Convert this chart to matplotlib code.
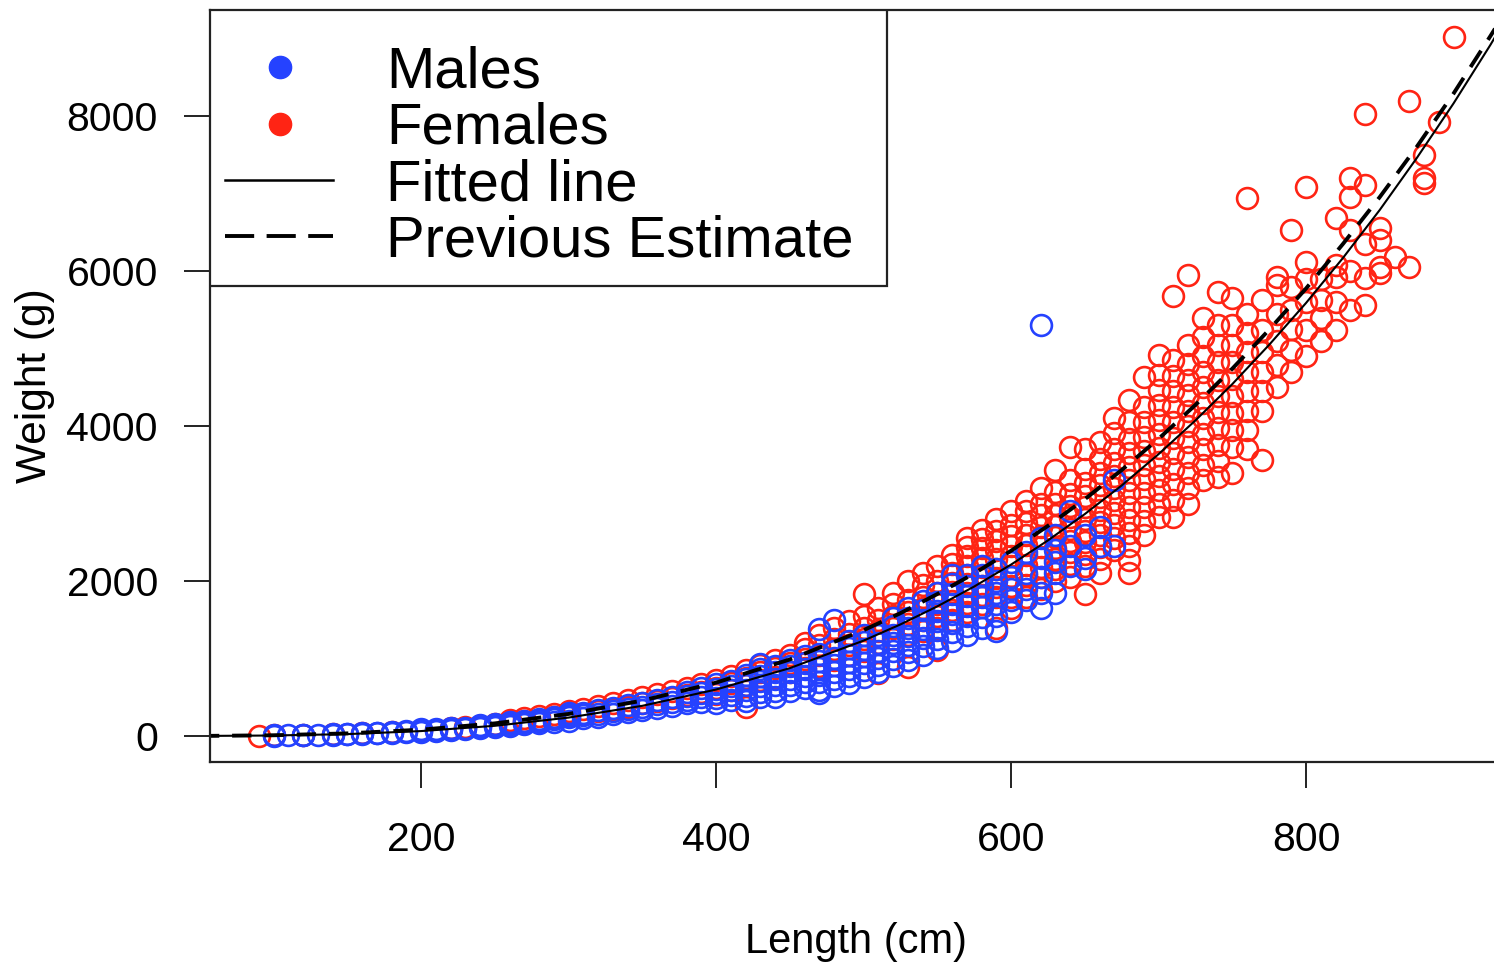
import matplotlib
matplotlib.use("Agg")
import matplotlib.pyplot as plt
from matplotlib.patches import Rectangle

plt.rcParams['font.family'] = ['Liberation Sans', 'DejaVu Sans']

# ============================== data ==============================
# (length cm, weight g) pairs, lengths are recorded in 10 cm steps
males = [
    (100, 5), (100, 10), (110, 8), (120, 10), (120, 16), (130, 14), (140, 18), (140, 25),
    (150, 22), (150, 30), (160, 28), (160, 40), (170, 35), (170, 45), (180, 40), (180, 55),
    (190, 50), (190, 65), (200, 55), (200, 70), (200, 85), (210, 65), (210, 85),
    (220, 75), (220, 95), (220, 110), (230, 90), (230, 110), (240, 100), (240, 125), (240, 140),
    (250, 115), (250, 140), (250, 160), (260, 130), (260, 150), (260, 175),
    (270, 150), (270, 175), (270, 200), (280, 165), (280, 195), (280, 225),
    (290, 185), (290, 215), (290, 250), (300, 200), (300, 240), (300, 270), (300, 300),
    (310, 230), (310, 265), (310, 300), (320, 250), (320, 290), (320, 330),
    (330, 280), (330, 320), (330, 360), (340, 310), (340, 350), (340, 400),
    (350, 330), (350, 380), (350, 430), (360, 360), (360, 410), (360, 460),
    (370, 390), (370, 440), (370, 500), (380, 420), (380, 470), (380, 520), (380, 570),
    (390, 440), (390, 500), (390, 560), (390, 620),
    (400, 430), (400, 490), (400, 550), (400, 610), (400, 670),
    (410, 470), (410, 530), (410, 590), (410, 650), (410, 710),
    (420, 450), (420, 520), (420, 590), (420, 660), (420, 730), (420, 790),
    (430, 500), (430, 570), (430, 640), (430, 710), (430, 780), (430, 860), (430, 930),
    (440, 500), (440, 580), (440, 660), (440, 740), (440, 820), (440, 900),
    (450, 580), (450, 660), (450, 740), (450, 820), (450, 900), (450, 980),
    (460, 620), (460, 700), (460, 780), (460, 860), (460, 940), (460, 1030),
    (470, 560), (470, 600), (470, 700), (470, 790), (470, 880), (470, 970), (470, 1060), (470, 1380),
    (480, 650), (480, 740), (480, 830), (480, 920), (480, 1010), (480, 1100), (480, 1500),
    (490, 680), (490, 770), (490, 860), (490, 950), (490, 1040), (490, 1130), (490, 1220),
    (500, 760), (500, 850), (500, 940), (500, 1030), (500, 1120), (500, 1210), (500, 1300),
    (510, 830), (510, 920), (510, 1010), (510, 1100), (510, 1200), (510, 1300),
    (520, 900), (520, 1000), (520, 1100), (520, 1200), (520, 1300), (520, 1420), (520, 1520),
    (530, 980), (530, 1080), (530, 1180), (530, 1290), (530, 1400), (530, 1520), (530, 1650),
    (540, 1050), (540, 1160), (540, 1270), (540, 1380), (540, 1500), (540, 1620), (540, 1740),
    (550, 1130), (550, 1250), (550, 1370), (550, 1490), (550, 1610), (550, 1730), (550, 1850),
    (560, 1220), (560, 1340), (560, 1460), (560, 1580), (560, 1700), (560, 1830), (560, 1960), (560, 2080),
    (570, 1300), (570, 1420), (570, 1550), (570, 1680), (570, 1810), (570, 1940), (570, 2080),
    (580, 1400), (580, 1530), (580, 1660), (580, 1800), (580, 1940), (580, 2080), (580, 2200),
    (590, 1350), (590, 1550), (590, 1700), (590, 1850), (590, 2000), (590, 2150),
    (600, 1600), (600, 1750), (600, 1900), (600, 2050), (600, 2250),
    (610, 1750), (610, 1900), (610, 2100), (610, 2380),
    (620, 1650), (620, 1850), (620, 2050), (620, 2300), (620, 2550), (620, 5300),
    (630, 1850), (630, 2100), (630, 2250), (630, 2400), (630, 2600),
    (640, 2200), (640, 2450), (640, 2900), (650, 2150), (650, 2300), (650, 2600),
    (660, 2450), (660, 2700), (670, 2450), (670, 3300),
]

females = [
    (90, 5), (100, 10), (120, 15), (140, 25), (160, 40), (180, 55), (200, 75), (210, 80),
    (220, 100), (230, 115), (240, 130), (250, 150), (260, 175), (260, 210),
    (270, 190), (270, 230), (280, 210), (280, 260), (290, 240), (290, 290),
    (300, 260), (300, 320), (310, 290), (310, 350), (320, 320), (320, 390),
    (330, 350), (330, 420), (340, 380), (340, 460), (350, 420), (350, 500),
    (360, 450), (360, 540), (370, 490), (370, 580), (380, 530), (380, 620),
    (390, 570), (390, 670), (400, 540), (400, 620), (400, 720),
    (410, 600), (410, 680), (410, 780), (420, 380), (420, 660), (420, 750), (420, 850),
    (430, 720), (430, 820), (430, 920), (440, 760), (440, 880), (440, 980),
    (450, 820), (450, 940), (450, 1050), (460, 880), (460, 1000), (460, 1120), (460, 1200),
    (470, 900), (470, 1050), (470, 1180), (470, 1300),
    (480, 980), (480, 1120), (480, 1250), (480, 1400),
    (490, 1050), (490, 1180), (490, 1320), (490, 1480),
    (500, 1100), (500, 1250), (500, 1400), (500, 1550), (500, 1830),
    (510, 810), (510, 1200), (510, 1350), (510, 1500), (510, 1650),
    (520, 1250), (520, 1400), (520, 1550), (520, 1700), (520, 1850),
    (530, 890), (530, 1300), (530, 1450), (530, 1600), (530, 1750), (530, 2000),
    (540, 1350), (540, 1500), (540, 1650), (540, 1800), (540, 1950), (540, 2100),
    (550, 1110), (550, 1400), (550, 1550), (550, 1700), (550, 1850), (550, 2000), (550, 2200),
    (560, 1500), (560, 1620), (560, 1740), (560, 1860), (560, 1980), (560, 2100), (560, 2220), (560, 2340),
    (570, 1600), (570, 1720), (570, 1840), (570, 1960), (570, 2080), (570, 2200), (570, 2320),
    (570, 2440), (570, 2560),
    (580, 1700), (580, 1820), (580, 1940), (580, 2060), (580, 2180), (580, 2300), (580, 2420),
    (580, 2540), (580, 2660),
    (590, 1400), (590, 1800), (590, 1920), (590, 2040), (590, 2160), (590, 2280), (590, 2400),
    (590, 2520), (590, 2650), (590, 2800),
    (600, 1650), (600, 1800), (600, 1930), (600, 2060), (600, 2190), (600, 2320), (600, 2450),
    (600, 2580), (600, 2720), (600, 2900),
    (610, 1800), (610, 1950), (610, 2080), (610, 2210), (610, 2340), (610, 2470), (610, 2600),
    (610, 2750), (610, 2900), (610, 3030),
    (620, 1900), (620, 2050), (620, 2180), (620, 2310), (620, 2440), (620, 2570), (620, 2700),
    (620, 2850), (620, 3000), (620, 3200),
    (630, 2000), (630, 2150), (630, 2290), (630, 2430), (630, 2570), (630, 2710), (630, 2850),
    (630, 3000), (630, 3150), (630, 3430),
    (640, 2050), (640, 2220), (640, 2370), (640, 2520), (640, 2670), (640, 2820), (640, 2970),
    (640, 3120), (640, 3300), (640, 3730),
    (650, 1830), (650, 2200), (650, 2350), (650, 2500), (650, 2650), (650, 2800), (650, 2950),
    (650, 3100), (650, 3260), (650, 3450), (650, 3700),
    (660, 2100), (660, 2280), (660, 2440), (660, 2600), (660, 2760), (660, 2920), (660, 3080),
    (660, 3240), (660, 3400), (660, 3580), (660, 3800),
    (670, 2400), (670, 2560), (670, 2720), (670, 2880), (670, 3040), (670, 3200), (670, 3360),
    (670, 3520), (670, 3700), (670, 3910), (670, 4100),
    (680, 2100), (680, 2270), (680, 2450), (680, 2620), (680, 2790), (680, 2960), (680, 3130),
    (680, 3300), (680, 3470), (680, 3650), (680, 3830), (680, 4050), (680, 4330),
    (690, 2600), (690, 2780), (690, 2960), (690, 3140), (690, 3320), (690, 3500), (690, 3680),
    (690, 3860), (690, 4050), (690, 4250), (690, 4630),
    (700, 2830), (700, 3000), (700, 3180), (700, 3360), (700, 3540), (700, 3720), (700, 3900),
    (700, 4080), (700, 4270), (700, 4460), (700, 4660), (700, 4920),
    (710, 2830), (710, 3050), (710, 3250), (710, 3450), (710, 3650), (710, 3850), (710, 4050),
    (710, 4250), (710, 4450), (710, 4650), (710, 4850), (710, 5680),
    (720, 3000), (720, 3200), (720, 3400), (720, 3600), (720, 3800), (720, 4000), (720, 4200),
    (720, 4400), (720, 4600), (720, 4800), (720, 5050), (720, 5950),
    (730, 3300), (730, 3500), (730, 3700), (730, 3900), (730, 4100), (730, 4300), (730, 4500),
    (730, 4700), (730, 4900), (730, 5150), (730, 5400),
    (740, 3340), (740, 3550), (740, 3760), (740, 3970), (740, 4180), (740, 4390), (740, 4600),
    (740, 4820), (740, 5050), (740, 5300), (740, 5730),
    (750, 3390), (750, 3730), (750, 3950), (750, 4170), (750, 4390), (750, 4610), (750, 4830),
    (750, 5050), (750, 5300), (750, 5650),
    (760, 3700), (760, 3950), (760, 4200), (760, 4450), (760, 4700), (760, 4950), (760, 5200),
    (760, 5450), (760, 6940),
    (770, 3560), (770, 4200), (770, 4450), (770, 4700), (770, 4950), (770, 5240), (770, 5630),
    (780, 4500), (780, 4790), (780, 5100), (780, 5450), (780, 5820), (780, 5920),
    (790, 4700), (790, 4980), (790, 5250), (790, 5500), (790, 5800), (790, 6530),
    (800, 4900), (800, 5240), (800, 5600), (800, 5900), (800, 6120), (800, 7080),
    (810, 5100), (810, 5400), (810, 5630), (810, 5900),
    (820, 5240), (820, 5600), (820, 5920), (820, 6080), (820, 6680),
    (830, 5500), (830, 6000), (830, 6530), (830, 6950), (830, 7200),
    (840, 5560), (840, 5910), (840, 6350), (840, 7110), (840, 8030),
    (850, 5970), (850, 6050), (850, 6400), (850, 6550),
    (860, 6180), (870, 6050), (870, 8190), (880, 7140), (880, 7200), (880, 7500),
    (890, 7920), (900, 9020),
]

# fitted curve and the previous estimate
line_len = [50, 100, 150, 200, 250, 300, 350, 400, 450, 500, 525, 550, 575, 600, 625, 650,
            675, 700, 725, 750, 775, 800, 825, 850, 875, 900, 925, 950]
fitted_wt = [1, 7, 25, 64, 132, 238, 390, 600, 876, 1231, 1440, 1673, 1929, 2212, 2524, 2864,
             3233, 3637, 4072, 4541, 5048, 5588, 6168, 6789, 7456, 8163, 8918, 9720]
previous_wt = [1, 10, 34, 82, 163, 285, 457, 689, 988, 1366, 1585, 1832, 2098, 2390, 2712, 3056,
               3432, 3835, 4272, 4740, 5243, 5775, 6349, 6955, 7601, 8290, 9032, 9795]

legend_labels = ["Males", "Females", "Fitted line", "Previous Estimate"]

RED = "#ff2414"
BLUE = "#2542ff"

# ======================================== figure ========================================
fig = plt.figure(figsize=(14.94, 9.65), dpi=100)
# right edge of the plot region is cut off in the reference
ax = fig.add_axes([210 / 1494, 203 / 965, 1299 / 1494, 752 / 965])

f_len = [p[0] for p in females]
f_wt = [p[1] for p in females]
m_len = [p[0] for p in males]
m_wt = [p[1] for p in males]

ax.plot(f_len, f_wt, 'o', ls='none', mfc='none', mec=RED, ms=15, mew=1.9)
ax.plot(m_len, m_wt, 'o', ls='none', mfc='none', mec=BLUE, ms=15, mew=1.9)
ax.plot(line_len, fitted_wt, color='black', lw=1.5)
ax.plot(line_len, previous_wt, color='black', lw=2.8, ls=(0, (5, 3.3)))

ax.set_xlim(56.9, 937.6)
ax.set_ylim(-335, 9368)
ax.set_xticks([200, 400, 600, 800])
ax.set_yticks([0, 2000, 4000, 6000, 8000])
ax.tick_params(direction='out', length=19, width=1.4, labelsize=29.5, color='#222222')
ax.tick_params(axis='x', pad=23.5)
ax.tick_params(axis='y', pad=18.5)
for s in ax.spines.values():
    s.set_linewidth(1.6)
    s.set_color('#222222')

ax.set_xlabel("Length (cm)", fontsize=30)
ax.xaxis.set_label_coords(0.497, -0.254)
ax.xaxis.label.set_va('baseline')
ax.set_ylabel("Weight (g)", fontsize=30.5)
ax.yaxis.set_label_coords(-0.1347, 0.5)
ax.yaxis.label.set_va('center')

# ======================================== legend ========================================
ax.add_patch(Rectangle((0, 0.633), 0.5212, 0.367, transform=ax.transAxes,
                       fc='white', ec='#222222', lw=1.6, zorder=5))
row_y = [0.9242, 0.8484, 0.7739, 0.6995]
base_y = [0.8976, 0.8225, 0.7473, 0.6722]
ax.plot([0.0539], [row_y[0]], 'o', color=BLUE, ms=16, transform=ax.transAxes, zorder=6)
ax.plot([0.0539], [row_y[1]], 'o', color=RED, ms=16, transform=ax.transAxes, zorder=6)
ax.plot([0.0116, 0.0947], [row_y[2]] * 2, color='black', lw=1.8, transform=ax.transAxes, zorder=6)
ax.plot([0.0116, 0.0947], [row_y[3]] * 2, color='black', lw=2.8, ls=(0, (7.5, 3.2)),
        transform=ax.transAxes, zorder=6)
for lab, yb in zip(legend_labels, base_y):
    ax.text(0.1355, yb, lab, fontsize=41.8, va='baseline', ha='left',
            transform=ax.transAxes, zorder=6)

fig.savefig("out.png", dpi=100)
